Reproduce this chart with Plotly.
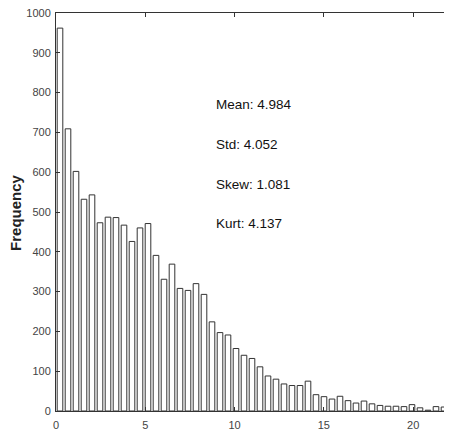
import plotly.graph_objects as go

# Histogram counts (50 bins)
counts = [962, 709, 602, 532, 543, 473, 487, 486, 467, 426,
          460, 471, 391, 331, 369, 308, 303, 320, 293, 224,
          197, 191, 157, 140, 132, 111, 88, 80, 68, 64,
          64, 75, 41, 36, 30, 37, 26, 20, 25, 18,
          14, 12, 12, 11, 16, 8, 2, 11, 10, 3]
bin_start = 0.0
bin_width = 0.448
centers = [bin_start + bin_width * (i + 0.5) for i in range(len(counts))]

stat_labels = ["Mean: 4.984", "Std: 4.052", "Skew: 1.081", "Kurt: 4.137"]
stat_y = [770, 670, 570, 470]
stat_x = 8.85

x_ticks = [0, 5, 10, 15, 20]
y_ticks = [0, 100, 200, 300, 400, 500, 600, 700, 800, 900, 1000]

FONT = "Liberation Sans, Arial, sans-serif"

fig = go.Figure()
fig.add_trace(go.Bar(
    x=centers, y=counts, width=bin_width * 0.7,
    marker=dict(color="white", line=dict(color="#333333", width=1)),
    showlegend=False, hoverinfo="x+y",
))

for lab, yy in zip(stat_labels, stat_y):
    fig.add_annotation(x=stat_x, y=yy, text=lab, showarrow=False,
                       xanchor="left", yanchor="middle",
                       font=dict(family=FONT, size=13.5, color="#111111"))

fig.add_annotation(xref="paper", yref="paper", x=-0.104, y=0.5,
                   text="<b>Frequency</b>", textangle=-90, showarrow=False,
                   xanchor="center", yanchor="middle",
                   font=dict(family=FONT, size=15, color="#222222"))

axis_common = dict(showline=True, linecolor="#333333", linewidth=1, mirror="ticks",
                   ticks="inside", ticklen=4, tickcolor="#333333", showgrid=False,
                   zeroline=False, automargin=False, ticklabeloverflow="allow",
                   tickfont=dict(family=FONT, size=11, color="#444444"))

fig.update_xaxes(range=[0, 22.12], tickvals=x_ticks, ticklabelstandoff=4, **axis_common)
fig.update_yaxes(range=[0, 1000], tickvals=y_ticks, ticklabelstandoff=2, **axis_common)

# page body has an 8px default margin, so the figure is sized/offset to compensate
fig.update_layout(
    width=444, height=423,
    margin=dict(l=48, r=1, t=5, b=20),
    paper_bgcolor="white", plot_bgcolor="white",
    bargap=0.3,
)

fig.write_html("out.html")
